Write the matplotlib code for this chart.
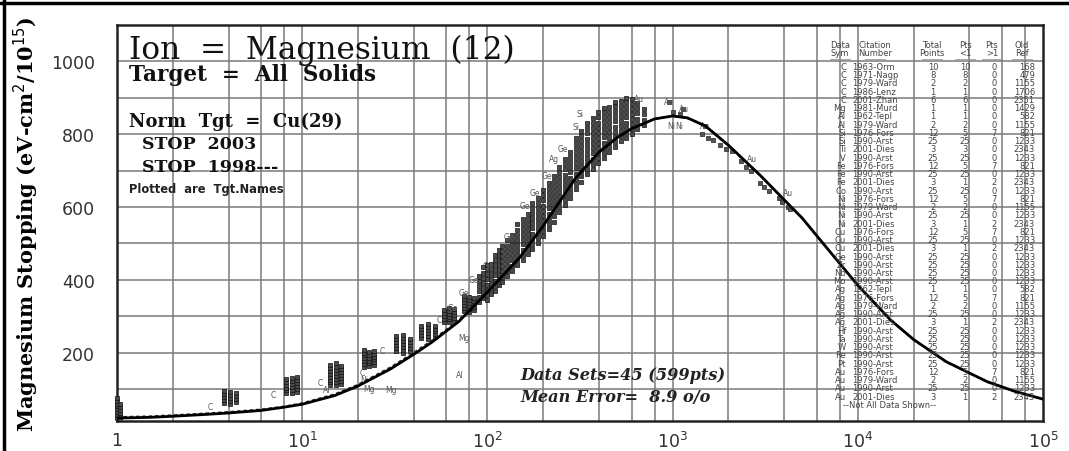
import matplotlib
matplotlib.use("Agg")
import matplotlib.pyplot as plt
from matplotlib.lines import Line2D

# -----------------------------
# Stopping curves (keV/u -> eV-cm2/1e15)
# -----------------------------
curve_energy = [1, 1.5, 2, 3, 4, 6, 8, 10, 15, 20, 30, 40, 50, 70, 100, 150, 200,
                300, 400, 500, 600, 800, 1000, 1200, 1500, 2000, 3000, 4000, 5000,
                7000, 10000, 15000, 20000, 30000, 50000, 70000, 100000]
stop_2003 = [20, 22, 25, 30, 34, 41, 50, 58, 82, 108, 155, 195, 228, 285, 366, 462,
             548, 680, 750, 790, 815, 842, 850, 845, 823, 770, 685, 620, 570,
             480, 385, 290, 236, 175, 120, 94, 72]
stop_1998 = [23, 25, 28, 33, 37, 44, 52, 61, 86, 112, 160, 200, 233, 289, 370, 465,
             550, 682, 752, 792, 816, 842, 850, 844, 822, 768, 684, 619, 569,
             479, 384, 289, 235, 174, 119, 93, 72]

# -----------------------------
# Measured points, stacked by energy
# -----------------------------
stack_energy = [1.0, 1.04, 3.8, 4.1, 4.4, 8.2, 8.8, 9.4, 14.2, 15.2, 16.2,
                21.5, 23, 24.5, 32, 35, 38, 44, 48, 52, 58, 62, 66, 75, 80, 85,
                90, 95, 100, 105, 110, 115, 120, 128, 136, 145, 155, 165, 175,
                187, 200, 215, 230, 245, 262, 280, 300, 322, 345, 370, 395, 425,
                455, 490, 525, 560, 600, 640, 700]
stack_values = [
    [20, 28, 36, 44, 52, 60, 68, 76],
    [18, 26, 34, 42, 50, 58],
    [62, 70, 78, 86, 94],
    [60, 68, 76, 84, 92],
    [64, 72, 80, 88],
    [88, 96, 104, 112, 120, 128],
    [90, 98, 106, 114, 122, 130],
    [92, 100, 108, 116, 124, 134],
    [110, 118, 126, 134, 142, 150, 158, 166],
    [112, 120, 128, 136, 144, 152, 160, 170],
    [115, 123, 131, 139, 147, 155, 163],
    [160, 168, 176, 184, 192, 200, 208],
    [162, 170, 178, 186, 194, 202],
    [165, 173, 181, 189, 197, 205],
    [205, 213, 221, 229, 237, 245],
    [200, 208, 216, 224, 232, 240, 248],
    [205, 213, 221, 229, 237],
    [240, 248, 256, 264, 272],
    [238, 246, 254, 262, 270, 278],
    [242, 250, 258, 266, 274],
    [285, 293, 301, 309, 317],
    [283, 291, 299, 307, 315, 323],
    [288, 296, 304, 312, 320],
    [315, 323, 331, 339, 347, 355],
    [312, 320, 328, 336, 344, 352],
    [318, 326, 334, 342, 350],
    [340, 354, 368, 382, 396, 410],
    [350, 364, 378, 392, 406, 420, 434],
    [345, 359, 373, 387, 401, 415, 429, 440],
    [360, 374, 388, 402, 416, 430, 444],
    [370, 384, 398, 412, 426, 440, 454, 468],
    [385, 399, 413, 427, 441, 455, 469, 483],
    [395, 409, 423, 437, 451, 465, 479, 493],
    [410, 424, 438, 452, 466, 480, 494, 508],
    [425, 439, 453, 467, 481, 495, 509, 523],
    [440, 454, 468, 482, 496, 510, 524, 538, 552],
    [455, 469, 483, 497, 511, 525, 539, 553, 567],
    [470, 484, 498, 512, 526, 540, 554, 568, 582],
    [485, 499, 513, 527, 541, 555, 569, 583, 597, 611],
    [500, 514, 528, 542, 556, 570, 584, 598, 612, 626],
    [520, 534, 548, 562, 576, 590, 604, 618, 632, 646],
    [540, 554, 568, 582, 596, 610, 624, 638, 652, 666],
    [560, 574, 588, 602, 616, 630, 644, 658, 672, 686],
    [585, 599, 613, 627, 641, 655, 669, 683, 697, 711],
    [605, 619, 633, 647, 661, 675, 689, 703, 717, 731],
    [625, 639, 653, 667, 681, 695, 709, 723, 737, 751],
    [650, 664, 678, 692, 706, 720, 734, 748, 762, 776, 790],
    [670, 684, 698, 712, 726, 740, 754, 768, 782, 796, 810],
    [690, 704, 718, 732, 746, 760, 774, 788, 802, 816, 830],
    [705, 719, 733, 747, 761, 775, 789, 803, 817, 831, 845],
    [720, 734, 748, 762, 776, 790, 804, 818, 832, 846, 860],
    [735, 749, 763, 777, 791, 805, 819, 833, 847, 861, 872],
    [750, 764, 778, 792, 806, 820, 834, 848, 862, 876],
    [765, 779, 793, 807, 821, 835, 849, 863, 877, 888],
    [780, 794, 808, 822, 836, 850, 864, 878, 892],
    [790, 804, 818, 832, 846, 860, 874, 888, 900],
    [800, 814, 828, 842, 856, 870, 884, 898],
    [815, 829, 843, 857, 871, 885],
    [825, 840, 855, 870],
]

# scattered points past the maximum
high_energy = [960, 1000, 1100, 1140, 1450, 1500, 1550, 1650, 1800, 1950, 2100,
               2350, 2500, 2650, 2950, 3100, 3300, 3750, 3900, 4200, 4300]
high_stop = [889, 860, 855, 870, 800, 823, 790, 785, 770, 760, 755,
             725, 710, 700, 665, 655, 645, 625, 615, 600, 595]

# target names written next to the points
label_energy = [3.2, 7.0, 12.5, 13.5, 21, 21.5, 23, 30, 27, 71, 75, 55, 65, 75,
                85, 100, 130, 160, 180, 210, 230, 255, 300, 316, 980, 1080,
                660, 960, 1150, 1500, 2700, 4200]
label_stop = [52, 85, 118, 98, 145, 125, 100, 98, 205, 140, 242, 290, 325, 365,
              400, 440, 520, 603, 640, 686, 732, 760, 820, 856, 823, 823,
              897, 889, 870, 823, 732, 640]
label_name = ["C", "C", "C", "Al", "C", "Ni", "Mg", "Mg", "C", "Al", "Mg", "C",
              "Ge", "Ge", "Ge", "Ge", "Ge", "Ge", "Ge", "Ge", "Ag", "Ge", "Si",
              "Si", "Ni", "Ni", "Au", "Au", "Au", "Au", "Au", "Au"]

# -----------------------------
# Experimental data sets table
# -----------------------------
table_sym = ["C", "C", "C", "C", "C", "Mg", "Al", "Al", "Si", "Si", "Ti", "V",
             "Fe", "Fe", "Fe", "Co", "Ni", "Ni", "Ni", "Ni", "Cu", "Cu", "Cu",
             "Ge", "Zr", "Nb", "Mo", "Ag", "Ag", "Ag", "Ag", "Ag", "Hf", "Ta",
             "W", "Re", "Pt", "Au", "Au", "Au", "Au"]
table_cite = ["1963-Orm", "1971-Nagp", "1979-Ward", "1986-Lenz", "2001-Zhan",
              "1981-Murd", "1962-Tepl", "1979-Ward", "1976-Fors", "1990-Arst",
              "2001-Dies", "1990-Arst", "1976-Fors", "1990-Arst", "2001-Dies",
              "1990-Arst", "1976-Fors", "1979-Ward", "1990-Arst", "2001-Dies",
              "1976-Fors", "1990-Arst", "2001-Dies", "1990-Arst", "1990-Arst",
              "1990-Arst", "1990-Arst", "1962-Tepl", "1976-Fors", "1979-Ward",
              "1990-Arst", "2001-Dies", "1990-Arst", "1990-Arst", "1990-Arst",
              "1990-Arst", "1990-Arst", "1976-Fors", "1979-Ward", "1990-Arst",
              "2001-Dies"]
table_total = [10, 8, 2, 1, 6, 1, 1, 2, 12, 25, 3, 25, 12, 25, 3, 25, 12, 2, 25,
               3, 12, 25, 3, 25, 25, 25, 25, 1, 12, 2, 25, 3, 25, 25, 25, 25, 25,
               12, 2, 25, 3]
table_lt1 = [10, 8, 2, 1, 6, 1, 1, 2, 5, 25, 3, 25, 5, 25, 1, 25, 5, 2, 25, 1,
             5, 25, 1, 25, 25, 25, 25, 1, 5, 2, 25, 1, 25, 25, 25, 25, 25, 5, 2,
             25, 1]
table_gt1 = [0, 0, 0, 0, 0, 0, 0, 0, 7, 0, 0, 0, 7, 0, 2, 0, 7, 0, 0, 2, 7, 0, 2,
             0, 0, 0, 0, 0, 7, 0, 0, 2, 0, 0, 0, 0, 0, 7, 0, 0, 2]
table_ref = [168, 479, 1155, 1706, 2351, 1429, 582, 1155, 821, 1233, 2343, 1233,
             821, 1233, 2343, 1233, 821, 1155, 1233, 2343, 821, 1233, 2343, 1233,
             1233, 1233, 1233, 582, 821, 1155, 1233, 2343, 1233, 1233, 1233,
             1233, 1233, 821, 1155, 1233, 2343]

W, H = 1069, 452
fig = plt.figure(figsize=(W / 100, H / 100), dpi=100)


def px(x, y):
    # pixel position -> figure fraction
    return x / W, 1 - y / H


ax = fig.add_axes([117 / W, 1 - 422 / H, (1043 - 117) / W, (422 - 26) / H])
ax.set_xscale("log")
ax.set_xlim(1, 1e5)
ax.set_ylim(12, 1100)

# grid: 2,4,6,8 within each decade, every 100 in stopping
xgrid = [m * 10 ** d for d in range(5) for m in (1, 2, 4, 6, 8)]
for xv in xgrid:
    ax.axvline(xv, color="#7a7a7a", lw=1.1, zorder=0)
for yv in range(100, 1100, 100):
    ax.axhline(yv, color="#7a7a7a", lw=1.1, zorder=0)

for s in ax.spines.values():
    s.set_linewidth(1.8)
    s.set_color("#222222")

ax.set_xticks([1, 10, 100, 1000, 1e4, 1e5])
ax.set_xticklabels(["1", r"$10^1$", r"$10^2$", r"$10^3$", r"$10^4$", r"$10^5$"])
ax.set_yticks([200, 400, 600, 800, 1000])
ax.minorticks_off()
ax.tick_params(axis="both", length=0, labelsize=12.5, labelcolor="#333333")
ax.tick_params(axis="y", pad=16)
ax.tick_params(axis="x", pad=7)

ax.set_ylabel("Magnesium Stopping (eV-cm$^2$/10$^{15}$)", family="DejaVu Serif",
              fontweight="bold", fontsize=15)
ax.yaxis.set_label_coords(-0.082, 0.5)

# measured points
for e, vals in zip(stack_energy, stack_values):
    ax.scatter([e] * len(vals), vals, marker="s", s=11, facecolor="#4a4a4a",
               edgecolor="#111111", linewidths=0.5, zorder=3, clip_on=False)
ax.scatter(high_energy, high_stop, marker="s", s=10, facecolor="#555555",
           edgecolor="#222222", linewidths=0.5, zorder=3)
for e, v, n in zip(label_energy, label_stop, label_name):
    ax.text(e, v, n, fontsize=5.5, color="#555555", ha="center", va="center",
            zorder=3)

# theory curves
ax.plot(curve_energy, stop_1998, color="#333333", lw=1.3, ls=(0, (2, 1.5)), zorder=4)
ax.plot(curve_energy, stop_2003, color="black", lw=2.0, zorder=5)

# header text
serif = "DejaVu Serif"
ink = "#111111"
fig.text(*px(129, 59), "Ion  =  Magnesium  (12)", family=serif, fontsize=22.5,
         color=ink)
fig.text(*px(129, 81), "Target  =  All  Solids", family=serif, fontsize=15.5,
         fontweight="bold", color=ink)
fig.text(*px(129, 127), "Norm  Tgt  =  Cu(29)", family=serif, fontsize=13,
         fontweight="bold", color=ink)
fig.text(*px(142, 149), "STOP  2003", family=serif, fontsize=12.5,
         fontweight="bold", color=ink)
fig.text(*px(142, 172), "STOP  1998---", family=serif, fontsize=12.5,
         fontweight="bold", color=ink)
fig.text(*px(129, 193), "Plotted  are  Tgt.Names", fontsize=8.3,
         fontweight="bold", color="#222222")

fig.text(*px(520, 380), "Data Sets=45 (599pts)", family=serif, fontsize=11.6,
         fontweight="bold", style="italic", color="#222222")
fig.text(*px(520, 402), "Mean Error=  8.9 o/o", family=serif, fontsize=11.6,
         fontweight="bold", style="italic", color="#222222")

# data set table
tc = "#444444"
fs = 6
heads = [(840, "Data", "Sym"), (875, "Citation", "Number"), (932, "Total", "Points"),
         (965, "Pts", "<1"), (992, "Pts", ">1"), (1022, "Old", "Ref")]
for x, h1, h2 in heads:
    fig.text(*px(x, 48), h1, fontsize=fs, color=tc, ha="center")
    fig.text(*px(x, 56), h2, fontsize=fs, color=tc, ha="center")
    fig.add_artist(Line2D([(x - 10) / W, (x + 10) / W], [1 - 60 / H] * 2,
                          color="#999999", lw=0.6))
for i in range(len(table_sym)):
    y = 70 + i * 8.24
    fig.text(*px(846, y), table_sym[i], fontsize=fs, color=tc, ha="right")
    fig.text(*px(852, y), table_cite[i], fontsize=fs, color=tc, ha="left")
    fig.text(*px(933, y), str(table_total[i]), fontsize=fs, color=tc, ha="center")
    fig.text(*px(965, y), str(table_lt1[i]), fontsize=fs, color=tc, ha="center")
    fig.text(*px(994, y), str(table_gt1[i]), fontsize=fs, color=tc, ha="center")
    fig.text(*px(1035, y), str(table_ref[i]), fontsize=fs, color=tc, ha="right")
fig.text(*px(843, 408), "--Not All Data Shown--", fontsize=fs, color=tc, ha="left")

# outer frame (top and left edges)
fig.add_artist(Line2D([0, 1], [1 - 4 / H] * 2, color="black", lw=2.5))
fig.add_artist(Line2D([4 / W] * 2, [0, 1], color="black", lw=2.5))

fig.savefig("out.png", dpi=100)
